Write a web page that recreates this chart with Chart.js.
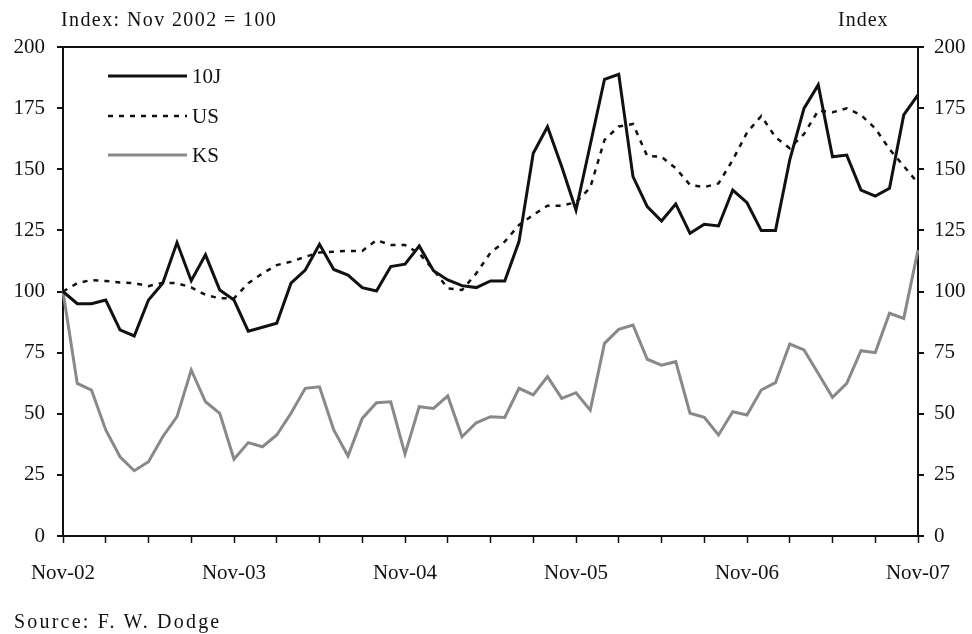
<!DOCTYPE html>
<html>
<head>
<meta charset="utf-8">
<script src="https://cdn.jsdelivr.net/npm/chart.js@4.4.1/dist/chart.umd.min.js"></script>
<style>
    body { margin: 0; background: #fff; }
    #wrap { position: relative; width: 972px; height: 634px; }
    #chart { position: absolute; left: 0; top: 0; }
    .note {
        position: absolute;
        font-family: "Liberation Serif", "DejaVu Serif", serif;
        font-size: 20px;
        color: #111;
        white-space: nowrap;
        line-height: 1;
    }
</style>
</head>
<body>
<div id="wrap">
    <canvas id="chart" width="972" height="634"></canvas>
    <div class="note" style="left:61px; top:9px; letter-spacing:1.4px;">Index: Nov 2002 = 100</div>
    <div class="note" style="left:838px; top:9px; letter-spacing:1px;">Index</div>
    <div class="note" style="left:14px; top:611px; letter-spacing:2.2px;">Source: F. W. Dodge</div>
</div>
<script>
// Monthly index, Nov 2002 = 100
const monthNames = ['Jan', 'Feb', 'Mar', 'Apr', 'May', 'Jun', 'Jul', 'Aug', 'Sep', 'Oct', 'Nov', 'Dec'];
const tickLabels = ['Nov-02', 'Nov-03', 'Nov-04', 'Nov-05', 'Nov-06', 'Nov-07'];

const tenJ = [100, 95, 95, 96.5, 84.3, 81.8, 96.5, 103.4, 120, 104.4, 115, 100.6, 96.5, 83.8, 85.4, 87,
    103.4, 108.8, 119.3, 109, 106.7, 101.6, 100.2, 110.2, 111.2, 118.6, 108.5, 104.7, 102.4, 101.6,
    104.3, 104.3, 120.4, 156.5, 167.4, 151, 133.3, 160, 186.8, 188.8, 147, 134.7, 128.8, 135.8, 123.8,
    127.5, 126.8, 141.5, 136.3, 124.9, 124.9, 153.8, 174.9, 184.5, 155.1, 155.8, 141.5, 139, 142.2,
    172.2, 180.4];

const us = [100, 103.4, 104.7, 104.3, 103.7, 103.4, 102.2, 103.6, 103.4, 101.7, 98.6, 97.2, 97.2, 103.4,
    107.4, 110.8, 112.2, 114.2, 116, 116.3, 116.6, 116.6, 121, 119, 119, 115.6, 108.8, 101.3, 100.6,
    107.4, 115.9, 120.4, 127.2, 131.3, 135.1, 135.1, 136.5, 142.5, 162, 167.5, 168.5, 155.4, 155.1,
    150.4, 143.6, 142.7, 144.2, 153.8, 165, 171.8, 163.1, 158.6, 164.4, 174, 173.3, 174.9, 172.2,
    166.7, 158.2, 151.3, 144.3];

const ks = [100, 62.4, 59.7, 43.4, 32.4, 26.7, 30.4, 40.6, 48.8, 67.9, 54.9, 50.2, 31.4, 38.2, 36.5,
    41.3, 50.2, 60.4, 61, 43.4, 32.7, 48.1, 54.5, 54.9, 33.5, 52.9, 52.2, 57.3, 40.6, 46.3, 48.8, 48.5,
    60.4, 57.7, 65.2, 56.3, 58.6, 51.5, 78.8, 84.5, 86.3, 72.3, 69.9, 71.3, 50.2, 48.5, 41.3, 50.8,
    49.5, 59.7, 62.7, 78.5, 76.1, 66.5, 56.7, 62.4, 75.8, 75, 91.1, 89, 117];

// Nov-02 .. Nov-07
const months = [];
for (let i = 0; i < tenJ.length; i++) {
    const m = (10 + i) % 12;
    const yr = 2 + Math.floor((10 + i) / 12);
    months.push(monthNames[m] + '-' + String(yr).padStart(2, '0'));
}

const serif = '"Liberation Serif", "DejaVu Serif", serif';
const tickFont = { family: serif, size: 21 };

// legend drawn inside the plot, top left
const insideLegend = {
    id: 'insideLegend',
    afterDatasetsDraw(chart) {
        const ctx = chart.ctx;
        const rows = [76, 116, 155];
        ctx.save();
        chart.data.datasets.forEach((ds, i) => {
            const y = rows[i];
            ctx.beginPath();
            ctx.strokeStyle = ds.borderColor;
            ctx.lineWidth = ds.borderWidth;
            ctx.setLineDash(ds.borderDash || []);
            ctx.moveTo(108, y);
            ctx.lineTo(187, y);
            ctx.stroke();
            ctx.setLineDash([]);
            ctx.fillStyle = '#111';
            ctx.font = '21px ' + serif;
            ctx.textBaseline = 'middle';
            ctx.fillText(ds.label, 192, y + 1);
        });
        ctx.restore();
    }
};

const ctx = document.getElementById('chart').getContext('2d');
new Chart(ctx, {
    type: 'line',
    data: {
        labels: months,
        datasets: [
            { label: '10J', data: tenJ, borderColor: '#111', borderWidth: 3 },
            { label: 'US', data: us, borderColor: '#111', borderWidth: 2.5, borderDash: [5, 6] },
            { label: 'KS', data: ks, borderColor: '#898989', borderWidth: 3 }
        ]
    },
    options: {
        responsive: false,
        animation: false,
        layout: { padding: { top: 47, left: 0, right: 0, bottom: 0 } },
        elements: {
            point: { radius: 0 },
            line: { tension: 0, borderJoinStyle: 'miter' }
        },
        plugins: {
            legend: { display: false },
            tooltip: { enabled: false }
        },
        scales: {
            x: {
                offset: false,
                afterFit: s => { s.height = 98; },
                border: { color: '#111', width: 2 },
                grid: {
                    drawOnChartArea: false,
                    tickLength: 7,
                    tickWidth: 1.5,
                    tickColor: c => (c.index % 3 === 0 ? '#111' : 'rgba(0,0,0,0)')
                },
                ticks: {
                    autoSkip: false,
                    maxRotation: 0,
                    padding: 18,
                    color: '#111',
                    font: tickFont,
                    callback: (v, i) => (tickLabels.includes(months[i]) ? months[i] : '')
                }
            },
            y: {
                position: 'left',
                min: 0,
                max: 200,
                afterFit: s => { s.width = 63; },
                border: { color: '#111', width: 2 },
                grid: {
                    drawOnChartArea: true,
                    tickLength: 6,
                    tickColor: '#111',
                    color: c => (c.tick && c.tick.value === 200 ? '#111' : 'rgba(0,0,0,0)'),
                    lineWidth: 2
                },
                ticks: { stepSize: 25, padding: 12, color: '#111', font: tickFont }
            },
            y2: {
                position: 'right',
                min: 0,
                max: 200,
                afterFit: s => { s.width = 54; },
                border: { color: '#111', width: 2 },
                grid: { drawOnChartArea: false, tickLength: 6, tickColor: '#111', lineWidth: 2 },
                ticks: { stepSize: 25, padding: 10, color: '#111', font: tickFont }
            }
        }
    },
    plugins: [insideLegend]
});
</script>
</body>
</html>
